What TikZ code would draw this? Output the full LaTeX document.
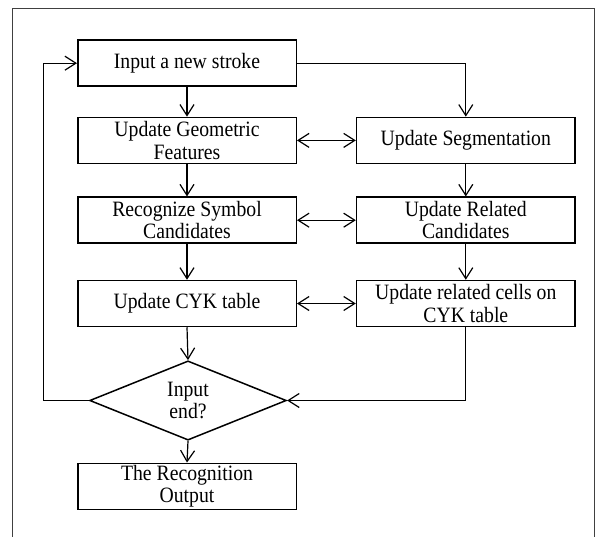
\documentclass[tikz,border=0pt]{standalone}
\usepackage{fontspec}
\setmainfont{Liberation Serif}[FakeStretch=0.9]
\usetikzlibrary{arrows.meta,shapes.geometric}
\begin{document}
\begin{tikzpicture}[x=1pt,y=-1pt,
  box/.style={draw,line width=1.5pt,minimum width=218.5pt,minimum height=46pt,inner sep=0pt,
    align=center,font=\fontsize{21.9}{22.3}\selectfont},
  dec/.style={draw,line width=1.5pt,shape=diamond,shape aspect=2.5,minimum width=196.7pt,minimum height=79.3pt,
    inner sep=0pt,align=center,font=\fontsize{21.9}{22.3}\selectfont},
  conn/.style={line width=1.2pt,-{Straight Barb[length=11pt,width=14pt]}},
  dconn/.style={line width=1.2pt,{Straight Barb[length=11pt,width=14pt]}-{Straight Barb[length=11pt,width=14pt]}}]
\path[use as bounding box] (0,0) rectangle (597,536);
\begin{scope}
\clip (0,0) rectangle (597,536);
\draw[line width=1pt,black!75] (12.7,8.3) rectangle (594,600);
\end{scope}
\node[box] (b1) at (187,63.2) {Input a new stroke};
\node[box] (b2) at (187,140.4) {Update Geometric\\Features};
\node[box] (b3) at (465.8,140.4) {Update Segmentation};
\node[box] (b4) at (187,220.2) {Recognize Symbol\\Candidates};
\node[box] (b5) at (465.8,220.2) {Update Related\\Candidates};
\node[box] (b6) at (187,303.5) {Update CYK table};
\node[box] (b7) at (465.8,303.5) {Update related cells on\\CYK table};
\node[dec] (d) at (188,400.5) {Input\\end?};
\node[box] (b8) at (187,486.3) {The Recognition\\Output};
\coordinate (lp) at (43.3,63.2);
\draw[conn] (b1) -- (b2);
\draw[conn] (b1.east) -| (b3.north);
\draw[dconn] (b2) -- (b3);
\draw[dconn] (b4) -- (b5);
\draw[dconn] (b6) -- (b7);
\draw[conn] (b2) -- (b4);
\draw[conn] (b3) -- (b5);
\draw[conn] (b4) -- (b6);
\draw[conn] (b5) -- (b7);
\draw[conn] (b6.south) -- (d.north);
\draw[conn] (b7.south) |- (d.east);
\draw[conn] (d.west) -| (lp) -- (b1.west);
\draw[conn] (d.south) -- (b8.north);
\end{tikzpicture}
\end{document}
